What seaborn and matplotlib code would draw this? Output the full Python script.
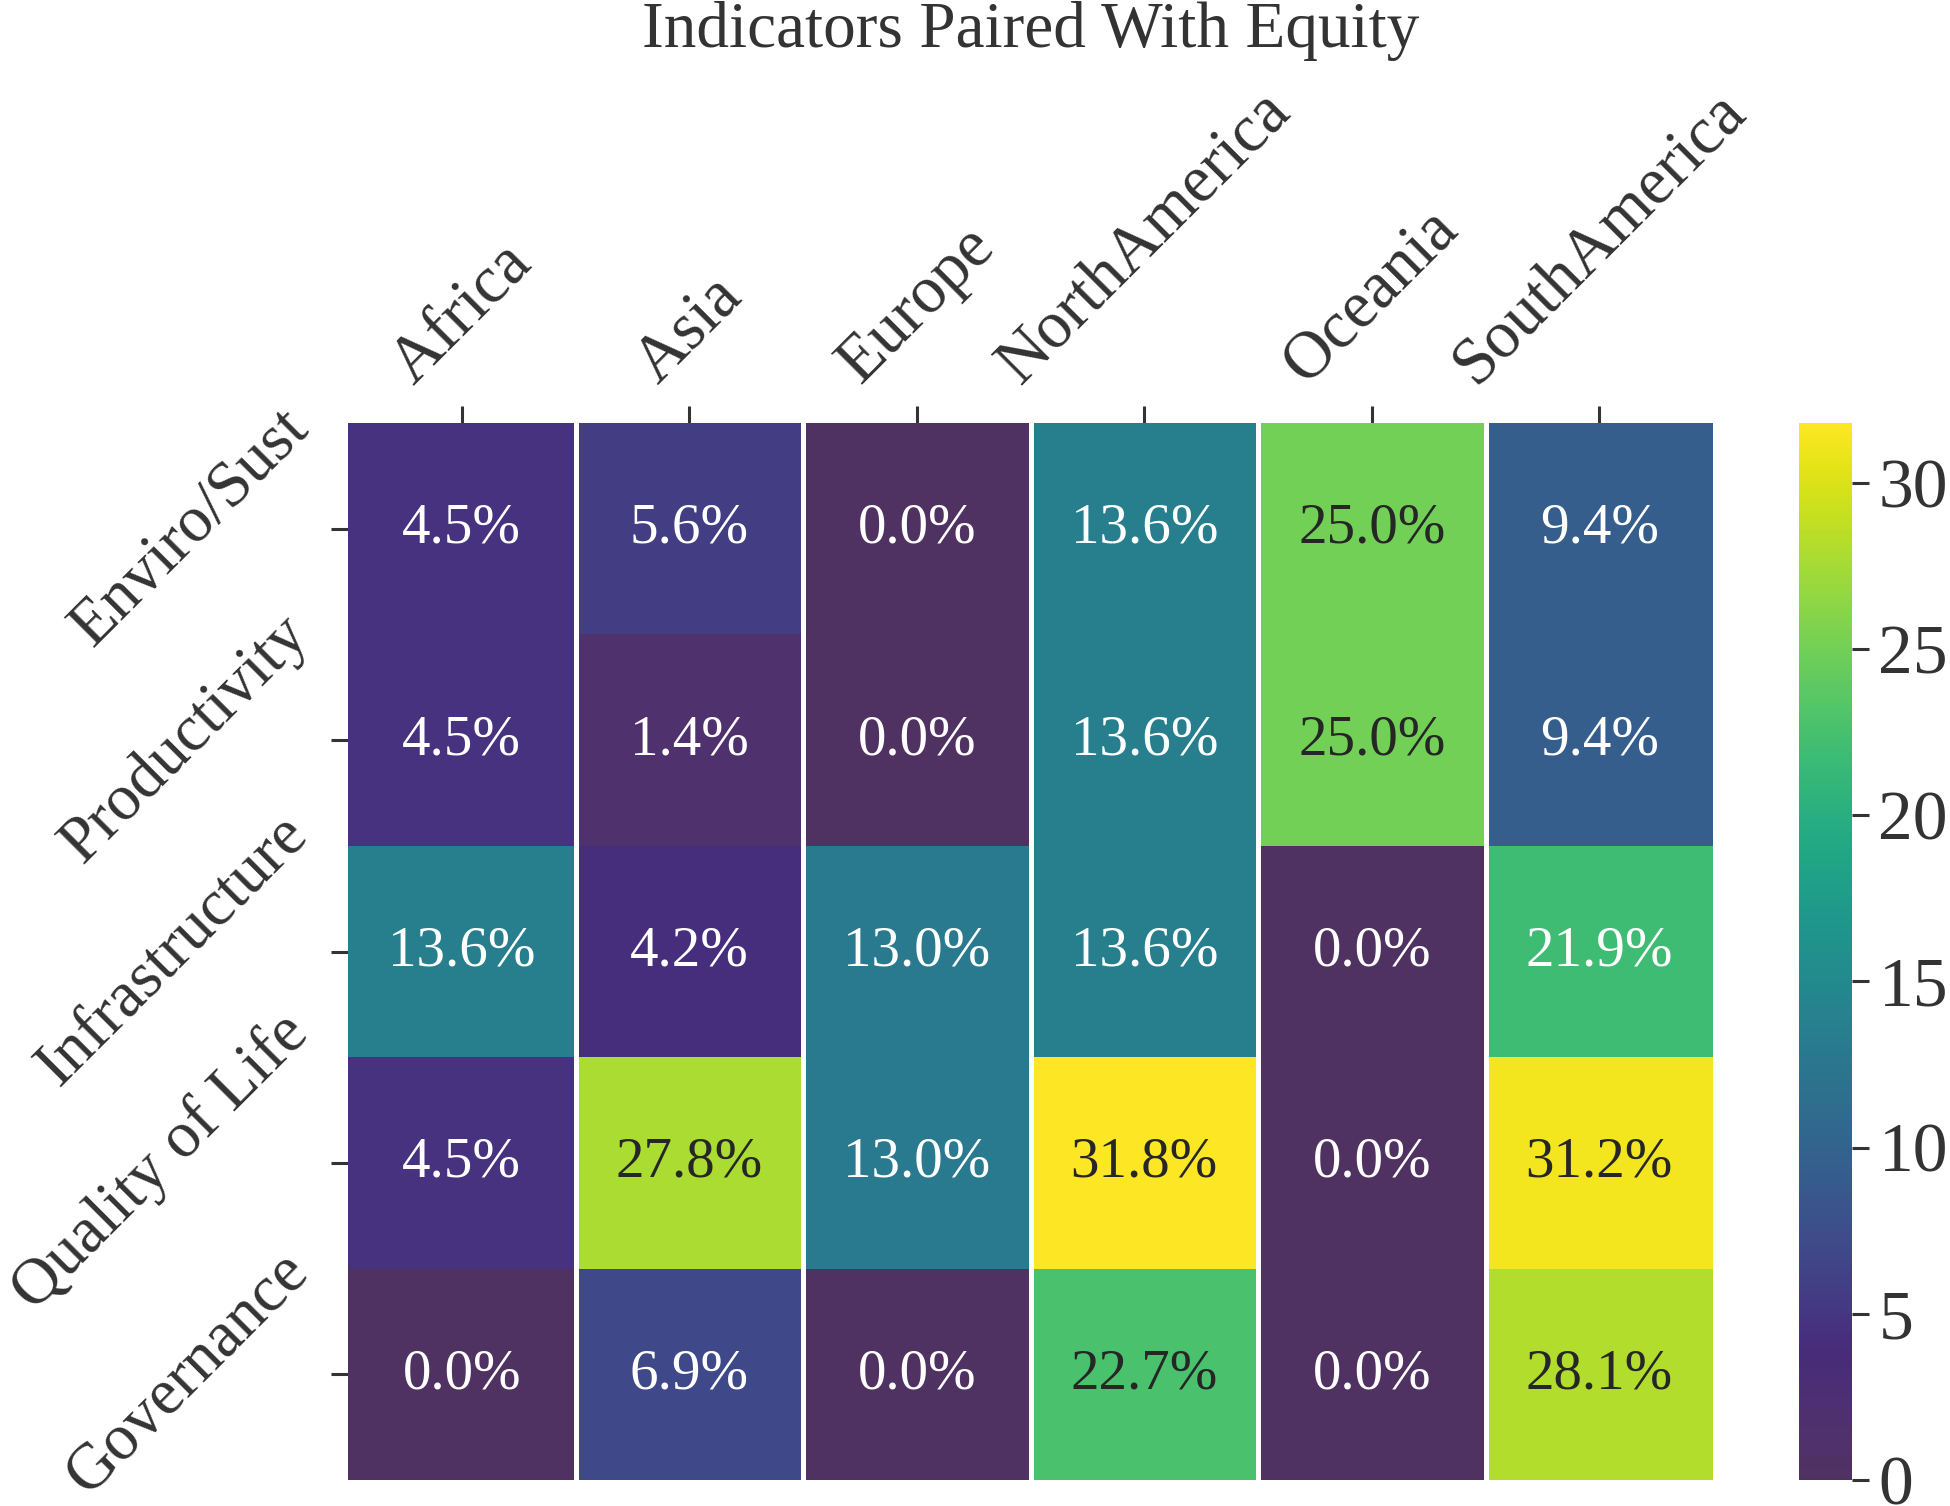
import numpy as np
import pandas as pd
import matplotlib
matplotlib.use("Agg")
import matplotlib.pyplot as plt
from matplotlib.colors import ListedColormap
import seaborn as sns

regions = ["Africa", "Asia", "Europe", "NorthAmerica", "Oceania", "SouthAmerica"]
indicators = ["Enviro/Sust", "Productivity", "Infrastructure", "Quality of Life", "Governance"]

africa = [4.5, 4.5, 13.6, 4.5, 0.0]
asia = [5.6, 1.4, 4.2, 27.8, 6.9]
europe = [0.0, 0.0, 13.0, 13.0, 0.0]
north_america = [13.6, 13.6, 13.6, 31.8, 22.7]
oceania = [25.0, 25.0, 0.0, 0.0, 0.0]
south_america = [9.4, 9.4, 21.9, 31.2, 28.1]

title = "Indicators Paired With Equity"
cbar_ticks = [0, 5, 10, 15, 20, 25, 30]

df = pd.DataFrame(
    {
        "Africa": africa,
        "Asia": asia,
        "Europe": europe,
        "NorthAmerica": north_america,
        "Oceania": oceania,
        "SouthAmerica": south_america,
    },
    index=indicators,
)[regions]
labels = df.apply(lambda col: col.map(lambda v: f"{v:.1f}%"))

# viridis, with the darkest end slightly muted as in the reference print
base = plt.get_cmap("viridis")(np.linspace(0, 1, 256))
t = np.linspace(0, 1, 256)
w = np.clip(1 - t / 0.12, 0, 1)
base[:, :3] = np.clip(base[:, :3] + w[:, None] * np.array([12, 49, 14]) / 255, 0, 1)
cmap = ListedColormap(base)

sns.set_theme(style="ticks")
plt.rcParams["font.family"] = ["Liberation Serif", "DejaVu Serif"]
plt.rcParams["text.color"] = "#333333"
plt.rcParams["axes.labelcolor"] = "#333333"
plt.rcParams["xtick.color"] = "#333333"
plt.rcParams["ytick.color"] = "#333333"

fig = plt.figure(figsize=(19.5, 15.06), dpi=100)
ax = fig.add_axes([348 / 1950, 1 - 1480 / 1506, (1713 - 348) / 1950, (1480 - 423) / 1506])
cax = fig.add_axes([1799 / 1950, 1 - 1480 / 1506, (1852 - 1799) / 1950, (1480 - 423) / 1506])

sns.heatmap(
    df,
    ax=ax,
    cbar_ax=cax,
    cmap=cmap,
    annot=labels.values,
    fmt="",
    annot_kws={"fontsize": 41},
    cbar_kws={"ticks": cbar_ticks},
)

for x in range(1, len(regions)):
    ax.axvline(x, color="white", lw=3.6)

ax.xaxis.tick_top()
ax.set_xlabel("")
ax.set_ylabel("")
ax.set_xticklabels(regions, rotation=45, ha="center", fontsize=48)
ax.set_yticklabels(indicators, rotation=45, ha="right", va="center", fontsize=47)
ax.tick_params(axis="both", length=12, width=2.2, pad=8, colors="#333333")
ax.tick_params(axis="x", top=True, bottom=False)

cax.tick_params(labelsize=50, length=12, width=2.2, pad=7, colors="#333333")

fig.text((348 + 1713) / 2 / 1950, 1 - 47 / 1506, title, ha="center", va="baseline",
         fontsize=47, color="#333333")

fig.savefig("out.png", dpi=100)
